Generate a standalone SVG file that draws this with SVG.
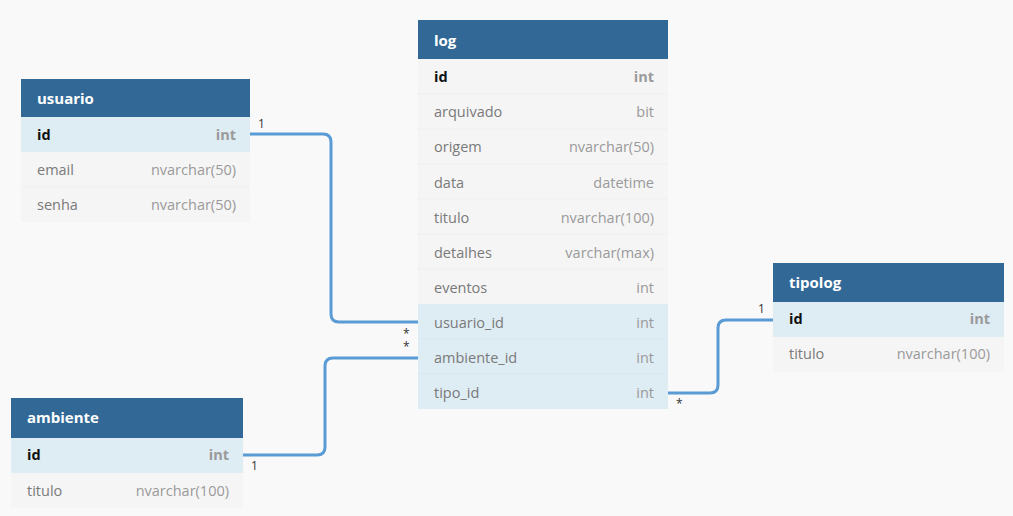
<svg xmlns="http://www.w3.org/2000/svg" width="1013" height="516" viewBox="0 0 1013 516">
<style>
.bg{fill:#f9f9f9}
.hdr{fill:#316896}
.row{fill:#f5f5f5}
.key{fill:#deecf4}
.sep{stroke:#efefef;stroke-width:1}
.ht{font-family:"Open Sans","Noto Sans",sans-serif;font-size:15px;font-weight:bold;fill:#ffffff}
.fn{font-family:"Open Sans","Noto Sans",sans-serif;font-size:14.5px;fill:#7a7a7a}
.fk{font-family:"Open Sans","Noto Sans",sans-serif;font-size:14.5px;font-weight:bold;fill:#111111}
.ty{font-family:"Open Sans","Noto Sans",sans-serif;font-size:14.5px;fill:#9a9a9a;text-anchor:end}
.tyk{font-family:"Open Sans","Noto Sans",sans-serif;font-size:14.5px;font-weight:bold;fill:#9a9a9a;text-anchor:end}
.conn{fill:none;stroke:#5b9bd5;stroke-width:3}
.lbl{font-family:"Open Sans","Noto Sans",sans-serif;font-size:12px;fill:#333333}
</style>
<rect class="bg" x="0" y="0" width="1013" height="516"/>
<g id="connectors">
<path class="conn" d="M250,134 H323 Q331,134 331,142 V314 Q331,322 339,322 H418"/>
<path class="conn" d="M243,455 H317 Q325,455 325,447 V366 Q325,358 333,358 H418"/>
<path class="conn" d="M668,393 H710 Q718,393 718,385 V328 Q718,320 726,320 H773"/>
<text class="lbl" x="258" y="128">1</text>
<text class="lbl" x="403" y="338">*</text>
<text class="lbl" x="403" y="351">*</text>
<text class="lbl" x="251" y="470">1</text>
<text class="lbl" x="758" y="313">1</text>
<text class="lbl" x="676" y="408">*</text>
</g>
<g id="usuario">
<rect class="hdr" x="21" y="79" width="229" height="38"/>
<rect class="key" x="21" y="117" width="229" height="35"/>
<rect class="row" x="21" y="152" width="229" height="70"/>
<line class="sep" x1="21" y1="187" x2="250" y2="187"/>
<text class="ht" x="37" y="104">usuario</text>
<text class="fk" x="37" y="140">id</text><text class="tyk" x="236" y="140">int</text>
<text class="fn" x="37" y="175">email</text><text class="ty" x="236" y="175">nvarchar(50)</text>
<text class="fn" x="37" y="210">senha</text><text class="ty" x="236" y="210">nvarchar(50)</text>
</g>
<g id="log">
<rect class="hdr" x="418" y="20" width="250" height="39"/>
<rect class="row" x="418" y="59" width="250" height="245"/>
<rect class="key" x="418" y="304" width="250" height="105"/>
<line class="sep" x1="418" y1="94" x2="668" y2="94"/>
<line class="sep" x1="418" y1="129" x2="668" y2="129"/>
<line class="sep" x1="418" y1="164" x2="668" y2="164"/>
<line class="sep" x1="418" y1="199" x2="668" y2="199"/>
<line class="sep" x1="418" y1="234" x2="668" y2="234"/>
<line class="sep" x1="418" y1="269" x2="668" y2="269"/>
<line x1="418" y1="339" x2="668" y2="339" stroke="#d8e8f1"/>
<line x1="418" y1="374" x2="668" y2="374" stroke="#d8e8f1"/>
<text class="ht" x="434" y="46">log</text>
<text class="fk" x="434" y="82">id</text><text class="tyk" x="654" y="82">int</text>
<text class="fn" x="434" y="117">arquivado</text><text class="ty" x="654" y="117">bit</text>
<text class="fn" x="434" y="152">origem</text><text class="ty" x="654" y="152">nvarchar(50)</text>
<text class="fn" x="434" y="188">data</text><text class="ty" x="654" y="188">datetime</text>
<text class="fn" x="434" y="223">titulo</text><text class="ty" x="654" y="223">nvarchar(100)</text>
<text class="fn" x="434" y="258">detalhes</text><text class="ty" x="654" y="258">varchar(max)</text>
<text class="fn" x="434" y="293">eventos</text><text class="ty" x="654" y="293">int</text>
<text class="fn" x="434" y="328">usuario_id</text><text class="ty" x="654" y="328">int</text>
<text class="fn" x="434" y="363">ambiente_id</text><text class="ty" x="654" y="363">int</text>
<text class="fn" x="434" y="398">tipo_id</text><text class="ty" x="654" y="398">int</text>
</g>
<g id="tipolog">
<rect class="hdr" x="773" y="263" width="231" height="39"/>
<rect class="key" x="773" y="302" width="231" height="35"/>
<rect class="row" x="773" y="337" width="231" height="35"/>
<text class="ht" x="789" y="288">tipolog</text>
<text class="fk" x="789" y="324">id</text><text class="tyk" x="990" y="324">int</text>
<text class="fn" x="789" y="359">titulo</text><text class="ty" x="990" y="359">nvarchar(100)</text>
</g>
<g id="ambiente">
<rect class="hdr" x="11" y="398" width="232" height="40"/>
<rect class="key" x="11" y="438" width="232" height="35"/>
<rect class="row" x="11" y="473" width="232" height="35"/>
<text class="ht" x="27" y="423">ambiente</text>
<text class="fk" x="27" y="460">id</text><text class="tyk" x="229" y="460">int</text>
<text class="fn" x="27" y="496">titulo</text><text class="ty" x="229" y="496">nvarchar(100)</text>
</g>
</svg>
